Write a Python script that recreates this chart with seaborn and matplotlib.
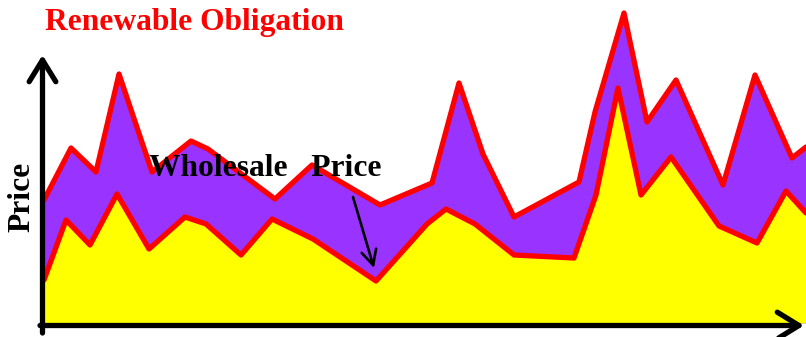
import matplotlib
matplotlib.use("Agg")
import matplotlib.pyplot as plt
import seaborn as sns
import numpy as np

# Time (arbitrary units) and price values
wholesale_t = [0, 2.2, 4.6, 7.3, 10.5, 14.1, 16.2, 19.7, 22.8, 26.9, 33.2, 38.3,
               40.2, 43.1, 47.0, 53.0, 55.2, 57.4, 59.7, 62.7, 67.5, 71.3, 74.2, 76.2]
wholesale_p = [4.3, 10.3, 7.8, 12.9, 7.4, 10.6, 9.9, 6.8, 10.4, 8.4, 4.2, 9.9,
               11.4, 9.9, 6.8, 6.5, 12.8, 23.5, 12.8, 16.6, 9.7, 8.0, 13.2, 11.0]

total_t = [0, 2.7, 5.2, 7.5, 10.8, 14.7, 16.4, 23.1, 26.8, 33.6, 38.8, 41.5,
           43.9, 47.0, 53.5, 55.1, 58.0, 60.3, 63.2, 67.9, 71.1, 74.8, 76.2]
total_p = [12.3, 17.5, 15.1, 24.9, 15.1, 18.2, 17.4, 12.4, 15.8, 11.8, 14.0, 24.0,
           16.9, 10.6, 14.1, 21.1, 31.0, 20.1, 24.3, 13.8, 24.8, 16.5, 17.6]

title_text = "Renewable Obligation"
series_label = "Wholesale   Price"
ylabel_text = "Price"

sns.set_theme(style="white")
plt.rcParams["font.family"] = ["Liberation Serif", "DejaVu Serif"]

W, H = 806, 337
fig = plt.figure(figsize=(W / 100, H / 100), dpi=100)
ax = fig.add_axes([44 / W, 14 / H, 762 / W, 323 / H])
ax.set_xlim(0, 76.2)
ax.set_ylim(0, 32.3)
ax.axis("off")

purple = "#9933FF"
yellow = "#FFFF00"
red = "#FF0000"

ax.fill_between(total_t, 0, total_p, color=purple, lw=0, zorder=1)
ax.fill_between(wholesale_t, 0, wholesale_p, color=yellow, lw=0, zorder=2)

sns.lineplot(x=total_t, y=total_p, ax=ax, color=red, lw=3.8, sort=False,
             solid_joinstyle="round", solid_capstyle="round", zorder=3)
sns.lineplot(x=wholesale_t, y=wholesale_p, ax=ax, color=red, lw=3.8, sort=False,
             solid_joinstyle="round", solid_capstyle="round", zorder=3)

# Axis arrows (decoration, in figure pixels)
arrow_kw = dict(arrowstyle="->,head_length=1.3,head_width=0.8", lw=3.8,
                color="black", capstyle="round", joinstyle="round",
                shrinkA=0, shrinkB=0)
ax.annotate("", xy=(42.5, H - 55), xytext=(42.5, H - 333),
            xycoords="figure pixels", textcoords="figure pixels",
            arrowprops=arrow_kw, annotation_clip=False, zorder=5)
ax.annotate("", xy=(804, H - 325.5), xytext=(40, H - 325.5),
            xycoords="figure pixels", textcoords="figure pixels",
            arrowprops=arrow_kw, annotation_clip=False, zorder=5)

# Wholesale pointer arrow
ax.annotate("", xy=(374, H - 268), xytext=(353, H - 197),
            xycoords="figure pixels", textcoords="figure pixels",
            arrowprops=dict(arrowstyle="->,head_length=0.9,head_width=0.45",
                            lw=1.9, color="black", shrinkA=0, shrinkB=0),
            annotation_clip=False, zorder=6)

fig.text(45 / W, (H - 30) / H, title_text, color=red, fontsize=22.7,
         fontweight="bold", ha="left", va="baseline")
fig.text(149 / W, (H - 176) / H, series_label, color="black", fontsize=22.7,
         fontweight="bold", ha="left", va="baseline", zorder=7)
fig.text(22 / W, (H - 197) / H, ylabel_text, color="black", fontsize=22.7,
         fontweight="bold", rotation=90, ha="center", va="center")

fig.savefig("out.png", dpi=100)
